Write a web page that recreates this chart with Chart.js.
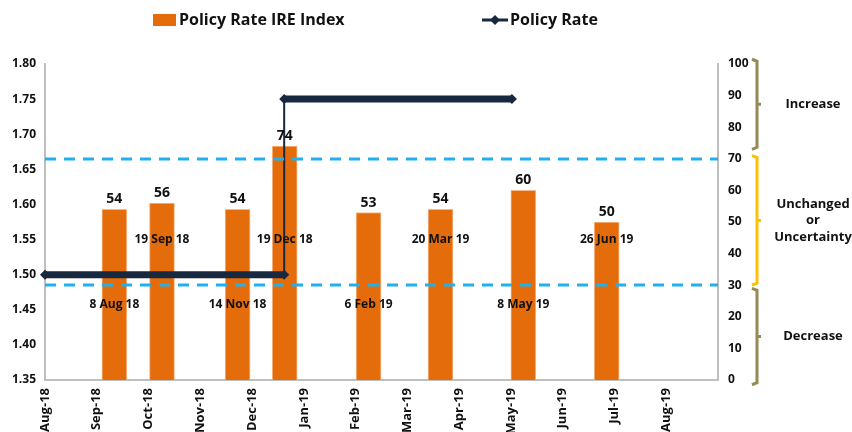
<!DOCTYPE html>
<html>
<head>
<meta charset="utf-8">
<script src="https://cdn.jsdelivr.net/npm/chart.js@4/dist/chart.umd.min.js"></script>
<style>
  html, body { margin: 0; padding: 0; background: #fff; }
  #wrap { width: 852px; height: 432px; position: relative; }
</style>
</head>
<body>
<div id="wrap"><canvas id="chart"></canvas></div>
<script>
// month tick labels (x = months since Aug-18)
const monthLabels = ["Aug-18", "Sep-18", "Oct-18", "Nov-18", "Dec-18", "Jan-19", "Feb-19",
    "Mar-19", "Apr-19", "May-19", "Jun-19", "Jul-19", "Aug-19"];

// IRE index bars
const barPositions = [1.34, 2.26, 3.72, 4.63, 6.25, 7.64, 9.24, 10.85];
const ireValues = [54, 56, 54, 74, 53, 54, 60, 50];
const meetingDates = ["8 Aug 18", "19 Sep 18", "14 Nov 18", "19 Dec 18", "6 Feb 19", "20 Mar 19", "8 May 19", "26 Jun 19"];

// policy rate (step)
const rateX = [0, 4.62, 4.62, 9.02];
const rateValues = [1.50, 1.50, 1.75, 1.75];

const zones = [
    { from: 73, to: 101.5, color: "#948a54", label: ["Increase"] },
    { from: 30, to: 71, color: "#ffc000", label: ["Unchanged", "or", "Uncertainty"] },
    { from: -1.5, to: 29, color: "#948a54", label: ["Decrease"] }
];
const thresholds = [70, 30];

const ORANGE = "#e46c0a";
const NAVY = "#17283f";
const FONT = "'Open Sans', 'DejaVu Sans', sans-serif";

const extras = {
    id: "extras",
    afterDatasetsDraw(chart) {
        const ctx = chart.ctx;
        const x = chart.scales.x;
        const yR = chart.scales.yR;
        const area = chart.chartArea;
        ctx.save();

        // threshold dashed lines
        ctx.strokeStyle = "#1fb1ee";
        ctx.lineWidth = 3;
        ctx.setLineDash([11, 8]);
        thresholds.forEach(v => {
            const py = Math.round(yR.getPixelForValue(v));
            ctx.beginPath();
            ctx.moveTo(area.left, py);
            ctx.lineTo(area.right, py);
            ctx.stroke();
        });
        ctx.setLineDash([]);

        // value labels on bars
        ctx.fillStyle = "#111";
        ctx.textAlign = "center";
        ctx.textBaseline = "bottom";
        ctx.font = "bold 14px " + FONT;
        ireValues.forEach((v, i) => {
            ctx.fillText(String(v), x.getPixelForValue(barPositions[i]), yR.getPixelForValue(v) - 3);
        });

        // meeting dates, alternating low / high
        ctx.font = "bold 12px " + FONT;
        ctx.textBaseline = "middle";
        meetingDates.forEach((d, i) => {
            const lvl = i % 2 === 0 ? 24 : 44.5;
            ctx.fillText(d, x.getPixelForValue(barPositions[i]), yR.getPixelForValue(lvl));
        });

        // braces on the right
        const bx = 757;
        zones.forEach(z => {
            const top = yR.getPixelForValue(z.to);
            const bot = yR.getPixelForValue(z.from);
            const mid = (top + bot) / 2;
            ctx.strokeStyle = z.color;
            ctx.lineWidth = 3;
            ctx.beginPath();
            ctx.moveTo(bx - 5, top);
            ctx.lineTo(bx, top + 2);
            ctx.lineTo(bx, bot - 2);
            ctx.lineTo(bx - 5, bot);
            ctx.moveTo(bx, mid);
            ctx.lineTo(bx + 4, mid);
            ctx.stroke();

            ctx.fillStyle = "#111";
            ctx.font = "bold 13px " + FONT;
            const lh = 16.5;
            z.label.forEach((t, k) => {
                ctx.fillText(t, 813, mid + (k - (z.label.length - 1) / 2) * lh);
            });
        });

        // legend
        ctx.font = "bold 16px 'Liberation Sans Narrow', " + FONT;
        ctx.textAlign = "left";
        ctx.fillStyle = ORANGE;
        ctx.fillRect(153, 14, 23, 12);
        ctx.fillStyle = "#111";
        ctx.fillText("Policy Rate IRE Index", 179, 20);
        ctx.strokeStyle = NAVY;
        ctx.lineWidth = 3;
        ctx.beginPath();
        ctx.moveTo(482, 20);
        ctx.lineTo(508, 20);
        ctx.stroke();
        ctx.fillStyle = NAVY;
        ctx.beginPath();
        ctx.moveTo(495, 15); ctx.lineTo(500, 20); ctx.lineTo(495, 25); ctx.lineTo(490, 20);
        ctx.closePath();
        ctx.fill();
        ctx.fillStyle = "#111";
        ctx.fillText("Policy Rate", 510, 20);

        ctx.restore();
    }
};

new Chart(document.getElementById("chart"), {
    data: {
        datasets: [{
            type: "line",
            label: "Policy Rate",
            data: rateX.map((v, i) => ({ x: v, y: rateValues[i] })),
            yAxisID: "y",
            borderColor: NAVY,
            backgroundColor: NAVY,
            borderWidth: 7,
            segment: {
                borderWidth: c => (c.p0.parsed.y !== c.p1.parsed.y ? 2 : 7)
            },
            pointStyle: "rectRot",
            pointRadius: 5,
            pointBackgroundColor: NAVY,
            pointBorderWidth: 0,
            clip: false,
            order: 0
        }, {
            type: "bar",
            label: "Policy Rate IRE Index",
            data: barPositions.map((v, i) => ({ x: v, y: ireValues[i] })),
            yAxisID: "yR",
            backgroundColor: ORANGE,
            borderColor: "#f7b98a",
            borderWidth: 1,
            barThickness: 25,
            order: 1
        }]
    },
    options: {
        responsive: true,
        maintainAspectRatio: false,
        animation: false,
        layout: { padding: { top: 64, left: 0, right: 0, bottom: 0 } },
        plugins: {
            legend: { display: false },
            tooltip: { enabled: false }
        },
        scales: {
            x: {
                type: "linear",
                min: 0,
                max: 13,
                offset: false,
                afterFit: s => { s.height = 52; },
                grid: { display: false, drawTicks: false },
                border: { color: "#bfbfbf", width: 2 },
                ticks: {
                    stepSize: 1,
                    autoSkip: false,
                    maxRotation: 90,
                    minRotation: 90,
                    padding: 8,
                    color: "#111",
                    font: { family: FONT, size: 13, weight: "bold" },
                    callback: v => monthLabels[v] || ""
                }
            },
            y: {
                position: "left",
                min: 1.35,
                max: 1.80,
                afterFit: s => { s.width = 45; },
                grid: { display: false, drawTicks: false },
                border: { color: "#bfbfbf", width: 2 },
                ticks: {
                    stepSize: 0.05,
                    padding: 9,
                    color: "#111",
                    font: { family: FONT, size: 12, weight: "bold" },
                    callback: v => v.toFixed(2)
                }
            },
            yR: {
                position: "right",
                min: 0,
                max: 100,
                afterFit: s => { s.width = 134; },
                grid: { display: false, drawOnChartArea: false, drawTicks: true, tickLength: 4, color: "#bfbfbf" },
                border: { color: "#bfbfbf", width: 2 },
                ticks: {
                    stepSize: 10,
                    padding: 6,
                    color: "#111",
                    font: { family: FONT, size: 12, weight: "bold" }
                }
            }
        }
    },
    plugins: [extras]
});
</script>
</body>
</html>
